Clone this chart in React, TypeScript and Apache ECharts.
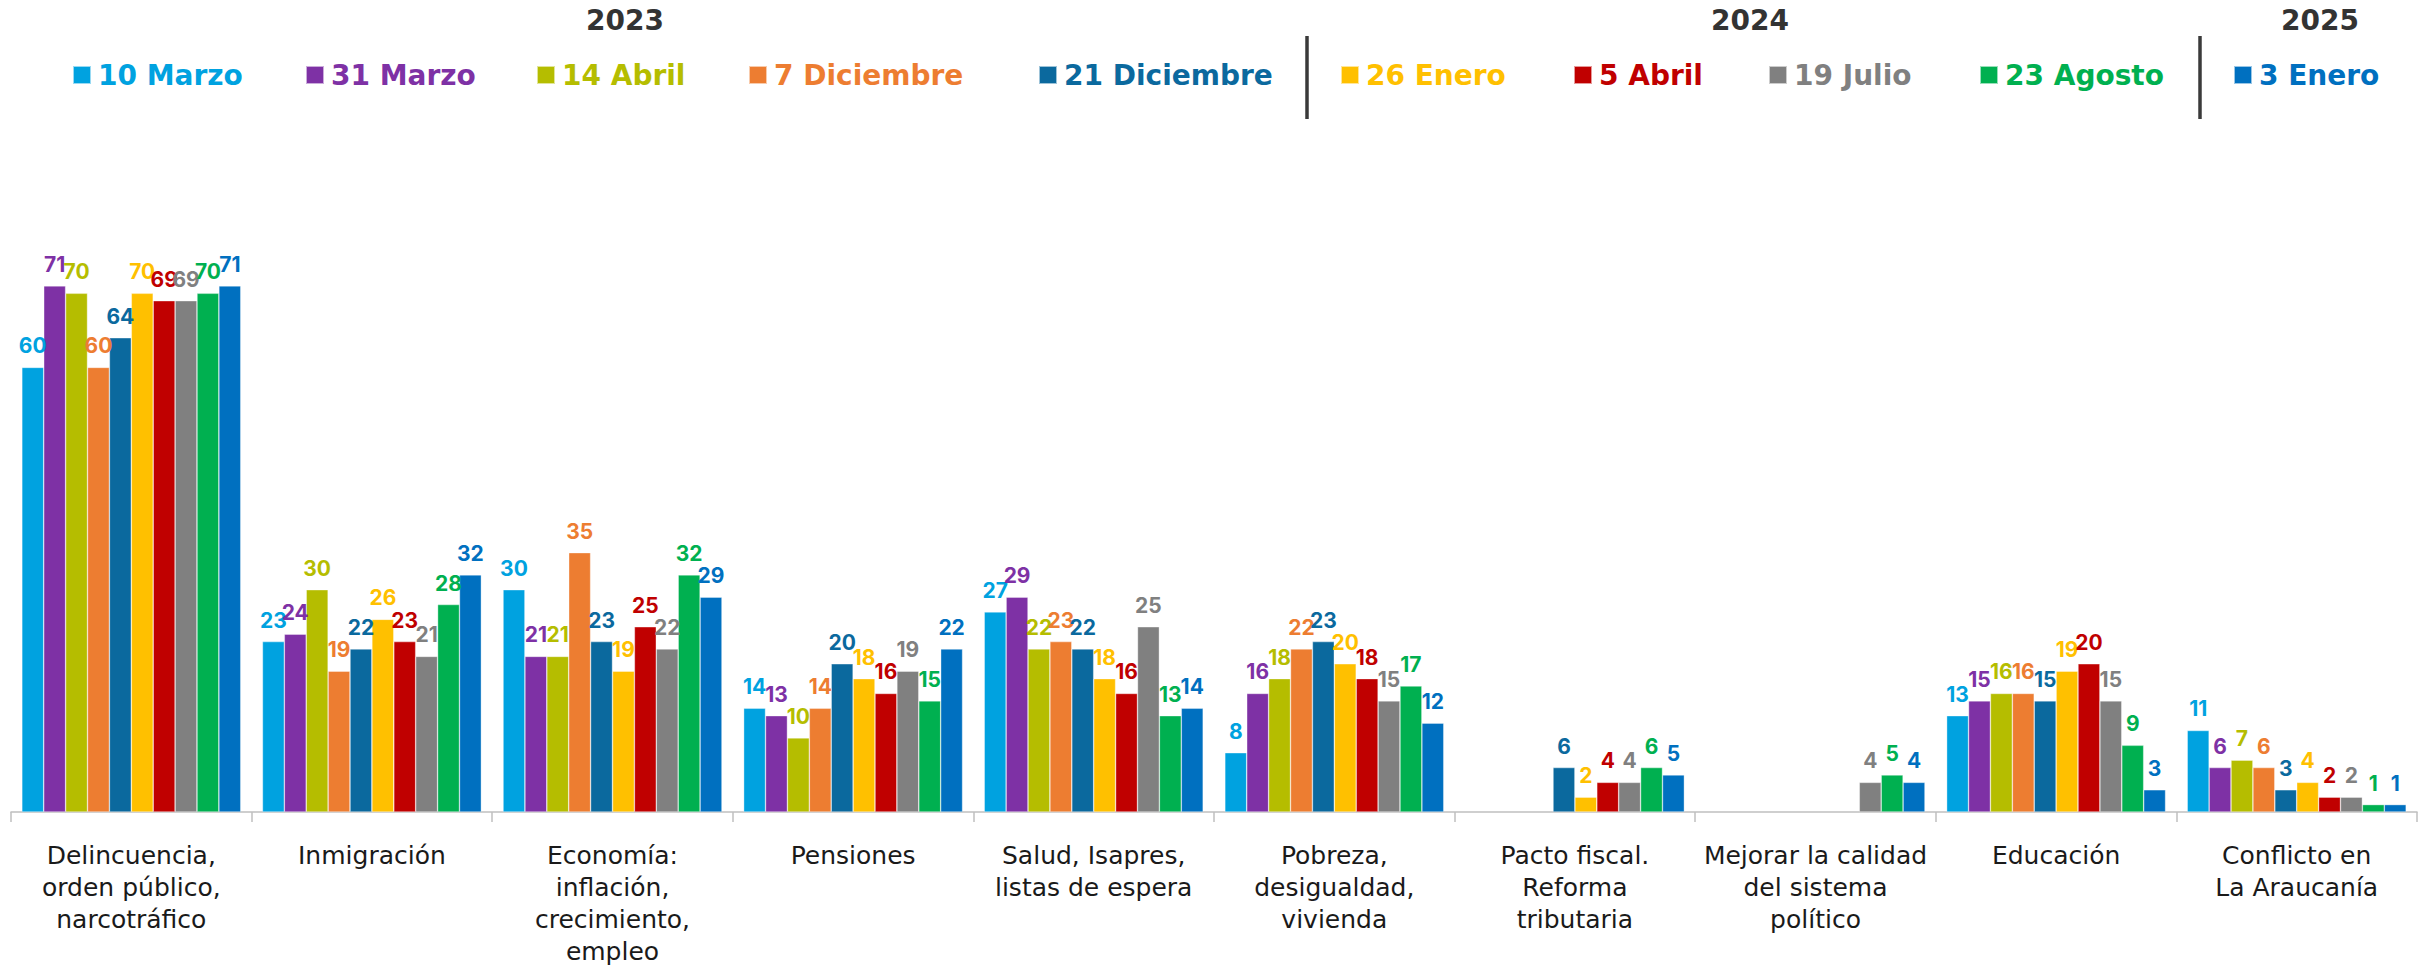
import React, { useEffect, useRef } from "react";
import * as echarts from "echarts";

const categories = [
  "Delincuencia,\norden público,\nnarcotráfico",
  "Inmigración",
  "Economía:\ninflación,\ncrecimiento,\nempleo",
  "Pensiones",
  "Salud, Isapres,\nlistas de espera",
  "Pobreza,\ndesigualdad,\nvivienda",
  "Pacto fiscal.\nReforma\ntributaria",
  "Mejorar la calidad\ndel sistema\npolítico",
  "Educación",
  "Conflicto en\nLa Araucanía",
];

const seriesNames = [
  "10 Marzo",
  "31 Marzo",
  "14 Abril",
  "7 Diciembre",
  "21 Diciembre",
  "26 Enero",
  "5 Abril",
  "19 Julio",
  "23 Agosto",
  "3 Enero",
];

const v10Marzo = [60, 23, 30, 14, 27, 8, null, null, 13, 11];
const v31Marzo = [71, 24, 21, 13, 29, 16, null, null, 15, 6];
const v14Abril = [70, 30, 21, 10, 22, 18, null, null, 16, 7];
const v7Diciembre = [60, 19, 35, 14, 23, 22, null, null, 16, 6];
const v21Diciembre = [64, 22, 23, 20, 22, 23, 6, null, 15, 3];
const v26Enero = [70, 26, 19, 18, 18, 20, 2, null, 19, 4];
const v5Abril = [69, 23, 25, 16, 16, 18, 4, null, 20, 2];
const v19Julio = [69, 21, 22, 19, 25, 15, 4, 4, 15, 2];
const v23Agosto = [70, 28, 32, 15, 13, 17, 6, 5, 9, 1];
const v3Enero = [71, 32, 29, 22, 14, 12, 5, 4, 3, 1];

const seriesValues = [
  v10Marzo, v31Marzo, v14Abril, v7Diciembre, v21Diciembre,
  v26Enero, v5Abril, v19Julio, v23Agosto, v3Enero,
];

const years = ["2023", "2024", "2025"];

// styling / layout
const colors = [
  "#00A2E0", "#7E31A5", "#B5BD00", "#ED7D31", "#0B699E",
  "#FFC000", "#C00000", "#808080", "#00B050", "#0070C0",
];
const legendLeft = [72, 305, 536, 748, 1038, 1340, 1573, 1768, 1979, 2233];
const yearCenters = [625, 1750, 2320];
const separatorX = [1307, 2200];

export default function App() {
  const ref = useRef<HTMLDivElement>(null);

  useEffect(() => {
    if (!ref.current) return;
    const chart = echarts.init(ref.current, null, { renderer: "svg" });

    const legends = seriesNames.map((name, i) => ({
      show: true,
      left: legendLeft[i],
      top: 61,
      padding: 0,
      icon: "rect",
      itemWidth: 18,
      itemHeight: 18,
      selectedMode: false,
      data: [{ name, textStyle: { color: colors[i] } }],
      textStyle: {
        fontSize: 28,
        fontWeight: "bold",
        fontFamily: "DejaVu Sans",
        padding: [0, 0, 0, 2],
      },
    }));

    const graphics: any[] = [];
    years.forEach((y, i) => {
      graphics.push({
        type: "text",
        x: yearCenters[i],
        y: 20,
        style: {
          text: y,
          fill: "#333333",
          fontSize: 28,
          fontWeight: "bold",
          fontFamily: "DejaVu Sans",
          textAlign: "center",
          textVerticalAlign: "middle",
        },
      });
    });
    separatorX.forEach((x) => {
      graphics.push({
        type: "line",
        shape: { x1: x, y1: 36, x2: x, y2: 119 },
        style: { stroke: "#3a3a3a", lineWidth: 3.5 },
      });
    });

    chart.setOption({
      animation: false,
      backgroundColor: "#ffffff",
      legend: legends,
      graphic: graphics,
      grid: { left: 11, right: 8, top: 71, bottom: 154 },
      xAxis: {
        type: "category",
        data: categories,
        axisLine: { show: true, lineStyle: { color: "#bfbfbf", width: 1.5 } },
        axisTick: { show: true, length: 10, lineStyle: { color: "#bfbfbf", width: 1.5 } },
        axisLabel: {
          interval: 0,
          margin: 27,
          fontSize: 25,
          lineHeight: 32,
          color: "#1a1a1a",
          fontFamily: "DejaVu Sans",
          fontWeight: "normal",
          align: "center",
        },
      },
      yAxis: {
        type: "value",
        min: 0,
        max: 100,
        show: false,
        splitLine: { show: false },
      },
      series: seriesNames.map((name, i) => ({
        name,
        type: "bar",
        data: seriesValues[i],
        barGap: "0%",
        barCategoryGap: "9%",
        itemStyle: {
          color: colors[i],
          borderColor: "rgba(255,255,255,0.6)",
          borderWidth: 0.6,
        },
        label: {
          show: true,
          position: "top",
          distance: 11,
          color: colors[i],
          fontSize: 21,
          fontWeight: "bold",
          fontFamily: "Inter",
        },
      })),
    });

    return () => chart.dispose();
  }, []);

  return (
    <div
      ref={ref}
      style={{ position: "fixed", left: 0, top: 0, width: 2425, height: 967 }}
    />
  );
}
